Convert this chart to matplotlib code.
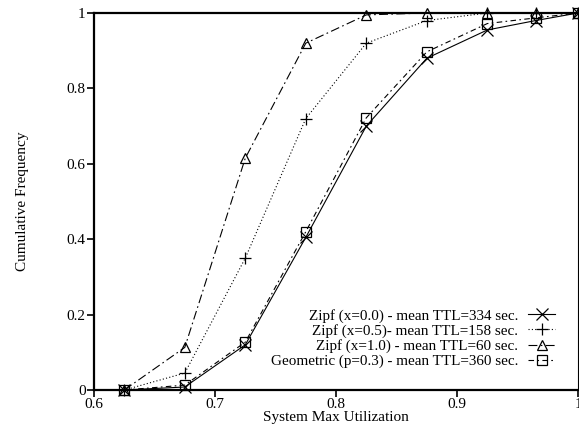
import matplotlib
matplotlib.use('Agg')
import numpy as np
import matplotlib.pyplot as plt
from matplotlib.lines import Line2D
from matplotlib.legend_handler import HandlerLine2D

plt.rcParams['font.family'] = ['Liberation Serif', 'DejaVu Serif']

utilization = [0.625, 0.675, 0.725, 0.775, 0.825, 0.875, 0.925, 0.965, 1.0]
zipf_00 = [0.0, 0.008, 0.12, 0.405, 0.70, 0.88, 0.955, 0.98, 1.0]
zipf_05 = [0.0, 0.045, 0.35, 0.72, 0.92, 0.98, 1.0, 1.0, 1.0]
zipf_10 = [0.0, 0.113, 0.615, 0.92, 0.995, 1.0, 1.0, 1.0, 1.0]
geometric = [0.0, 0.013, 0.127, 0.42, 0.722, 0.897, 0.972, 0.987, 1.0]

labels = [
    'Zipf (x=0.0) - mean TTL=334 sec.',
    'Zipf (x=0.5)- mean TTL=158 sec.',
    'Zipf (x=1.0) - mean TTL=60 sec.',
    'Geometric (p=0.3) - mean TTL=360 sec.',
]
x_ticks = [0.6, 0.7, 0.8, 0.9, 1.0]
x_tick_labels = ['0.6', '0.7', '0.8', '0.9', '1']
y_ticks = [0, 0.2, 0.4, 0.6, 0.8, 1.0]
y_tick_labels = ['0', '0.2', '0.4', '0.6', '0.8', '1']


class LeftMarkerHandler(HandlerLine2D):
    # gnuplot-style key: marker sits near the left end of the sample line
    def get_xdata(self, legend, xdescent, ydescent, width, height, fontsize):
        xdata = np.array([-xdescent, -xdescent + width])
        return xdata, np.array([-xdescent + width * 0.25])


fig = plt.figure(figsize=(5.79, 4.32), dpi=100)
ax = fig.add_axes([0.1624, 0.0972, 0.836, 0.8727])

common = dict(color='black', linewidth=0.8, clip_on=False, markerfacecolor='none')
ax.plot(utilization, zipf_00, linestyle='-', marker='x', markersize=9, markeredgewidth=0.9,
        label=labels[0], **common)
ax.plot(utilization, zipf_05, linestyle=(0, (1, 2)), marker='+', markersize=9, markeredgewidth=0.9,
        label=labels[1], **common)
ax.plot(utilization, zipf_10, linestyle=(0, (8, 3, 1.5, 3)), marker='^', markersize=7, markeredgewidth=0.9,
        label=labels[2], **common)
ax.plot(utilization, geometric, linestyle=(0, (5, 3, 1.5, 3)), marker='s', markersize=7.5, markeredgewidth=0.9,
        label=labels[3], **common)

ax.set_xlim(0.6, 1.0)
ax.set_ylim(0, 1.0)
ax.set_xticks(x_ticks)
ax.set_xticklabels(x_tick_labels)
ax.set_yticks(y_ticks)
ax.set_yticklabels(y_tick_labels)
ax.tick_params(direction='out', length=5, width=1.2, labelsize=11, pad=1)

for side in ['left', 'top', 'bottom']:
    ax.spines[side].set_linewidth(1.6)
ax.spines['right'].set_linewidth(0.8)

ax.set_xlabel('System Max Utilization', fontsize=11, labelpad=0)
ax.set_ylabel('Cumulative Frequency', fontsize=11, labelpad=27)

ax.legend(loc='lower right', bbox_to_anchor=(0.975, 0.03), frameon=False, markerfirst=False,
          fontsize=10.9, numpoints=1, handlelength=1.8, handletextpad=0.65,
          labelspacing=0.08, borderpad=0.2,
          handler_map={Line2D: LeftMarkerHandler()})

fig.savefig('out.png', dpi=100)
